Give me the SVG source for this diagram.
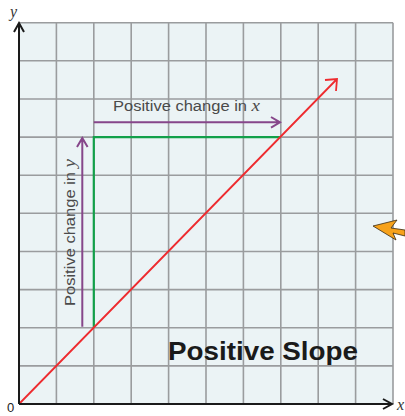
<svg xmlns="http://www.w3.org/2000/svg" width="405" height="416" viewBox="0 0 405 416">
<style>
.grid{stroke:#9a9c9e;stroke-width:1.6;fill:none}
.axis{stroke:#1a1a1a;stroke-width:2;fill:none}
.purple{stroke:#86468a;stroke-width:2;fill:none}
.green{stroke:#12a04a;stroke-width:2.2;fill:none}
.red{stroke:#ee2b2f;stroke-width:1.8;fill:none}
.lbl{font-family:"Liberation Sans",Arial,sans-serif;font-size:14px;fill:#4a4a4a}
.ax{font-family:"Liberation Serif","Times New Roman",serif;font-style:italic;font-size:16px;fill:#333}
</style>
<rect width="405" height="416" fill="#ffffff"/>
<g id="grid">
<rect x="19" y="22.7" width="374" height="381.3" fill="#ebf3f5"/>
<path class="grid" d="M56.4 22.7V404M93.8 22.7V404M131.2 22.7V404M168.6 22.7V404M206 22.7V404M243.4 22.7V404M280.8 22.7V404M318.2 22.7V404M355.6 22.7V404M393 22.7V404M19 22.7H393M19 60.8H393M19 99H393M19 137.1H393M19 175.2H393M19 213.3H393M19 251.5H393M19 289.6H393M19 327.7H393M19 365.9H393"/>
</g>
<g id="connectors">
<path class="green" d="M93.8 327.7V137.1H280.8"/>
<path class="red" d="M19 404L337 79M325 80L337 79L336 91"/>
<path class="purple" d="M93.8 122.3H280M271 117L280 122.3L271 127.6"/>
<path class="purple" d="M82.3 326.7V138M77 147L82.3 138L87.6 147"/>
</g>
<g id="axes">
<path class="axis" d="M19 404V23M14 32L19 23L24 32"/>
<path class="axis" d="M19 404H392M383 399L392 404L383 409"/>
<text class="ax" x="10" y="17">y</text>
<text class="ax" x="397" y="410">x</text>
<text x="7" y="412" font-family="Liberation Sans,Arial,sans-serif" font-size="13" fill="#222">0</text>
</g>
<g id="label-x">
<text class="lbl" x="113" y="111" textLength="147" lengthAdjust="spacingAndGlyphs">Positive change in <tspan font-family="Liberation Serif,serif" font-style="italic" font-size="16">x</tspan></text>
</g>
<g id="label-y">
<text class="lbl" transform="translate(75 306) rotate(-90)" x="0" y="0" textLength="147" lengthAdjust="spacingAndGlyphs">Positive change in <tspan font-family="Liberation Serif,serif" font-style="italic" font-size="16">y</tspan></text>
</g>
<g id="title">
<text x="168" y="360" font-family="Liberation Sans,Arial,sans-serif" font-weight="bold" font-size="25" fill="#1a1a1a" textLength="190" lengthAdjust="spacingAndGlyphs">Positive Slope</text>
</g>
<g id="pointer">
<path d="M373 226L397 220L391 228L405 230L405 236L393 233L396 240Z" fill="#f7a21b" stroke="#3a2a10" stroke-width="0.8" stroke-linejoin="round"/>
</g>
</svg>
